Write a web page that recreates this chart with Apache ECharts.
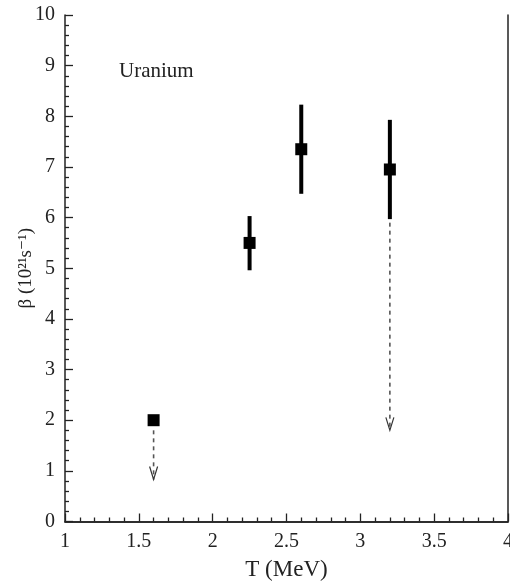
<!DOCTYPE html>
<html><head><meta charset="utf-8">
<script src="https://cdn.jsdelivr.net/npm/echarts@6/dist/echarts.min.js"></script>
<style>html,body{margin:0;padding:0;background:#fff}#c{width:510px;height:585px}</style>
</head><body><div id="c"></div>
<script>
// Measured points: T (MeV), beta (10^21 s^-1)
const T = [1.6, 2.25, 2.6, 3.2];
const beta = [2.0, 5.5, 7.35, 6.95];
// error bars (low, high); null = none
const errLow = [null, 4.96, 6.47, 5.97];
const errHigh = [null, 6.03, 8.23, 7.93];
// dashed down-arrows (upper-limit indications): [T, from, to]
const arrowT = [1.6, 3.2];
const arrowFrom = [1.8, 5.9];
const arrowTo = [0.83, 1.8];
const xTicks = [1, 1.5, 2, 2.5, 3, 3.5, 4];
const yTicks = [0,1,2,3,4,5,6,7,8,9,10];

const FONT = '"Liberation Serif","DejaVu Serif",serif';
const chart = echarts.init(document.getElementById('c'));

const errData = T.map((t,i)=> errLow[i]==null?null:[t, errLow[i], errHigh[i]]).filter(d=>d);
const arrData = arrowT.map((t,i)=>[t, arrowFrom[i], arrowTo[i]]);

const axisCommon = {
  axisLine:{show:true,lineStyle:{color:'#222',width:1.5}},
  splitLine:{show:false},
};

chart.setOption({
  animation:false,
  grid:{left:65,right:2,top:15,bottom:63.5,containLabel:false,outerBoundsMode:'none'},
  xAxis:[{
    type:'value',min:1,max:4,interval:0.5,
    ...axisCommon,
    axisTick:{show:true,inside:true,length:8,lineStyle:{color:'#222',width:1.3}},
    minorTick:{show:true,splitNumber:5,length:4,lineStyle:{color:'#222',width:1.3}},
    axisLabel:{color:'#222',fontFamily:FONT,fontSize:20,margin:10,
      formatter:v=>String(v)},
    name:'T (MeV)',nameLocation:'middle',nameGap:37,nameMoveOverlap:false,
    nameTextStyle:{color:'#222',fontFamily:FONT,fontSize:23}
  },{
    type:'value',min:1,max:4,position:'top',
    ...axisCommon,axisTick:{show:false},axisLabel:{show:false}
  }],
  yAxis:[{
    type:'value',min:0,max:10,interval:1,
    ...axisCommon,
    axisTick:{show:true,inside:true,length:8,lineStyle:{color:'#222',width:1.3}},
    minorTick:{show:true,splitNumber:5,length:4,lineStyle:{color:'#222',width:1.3}},
    axisLabel:{color:'#222',fontFamily:FONT,fontSize:20,margin:10},
    name:'β (10²¹s⁻¹)',nameLocation:'middle',nameGap:29,nameMoveOverlap:false,
    nameTextStyle:{color:'#222',fontFamily:FONT,fontSize:19}
  },{
    type:'value',min:0,max:10,position:'right',
    ...axisCommon,axisTick:{show:false},axisLabel:{show:false}
  }],
  graphic:[{type:'text',left:119,top:61,style:{text:'Uranium',font:'21px '+FONT,fill:'#222'}}],
  series:[
    {type:'custom',data:arrData,z:2,renderItem:(p,api)=>{
      const a=api.coord([api.value(0),api.value(1)]);
      const b=api.coord([api.value(0),api.value(2)]);
      return {type:'group',children:[
        {type:'line',shape:{x1:a[0],y1:a[1],x2:b[0],y2:b[1]},style:{stroke:'#555',lineWidth:1.6,lineDash:[4,4]}},
        {type:'polyline',shape:{points:[[b[0]-4,b[1]-13],[b[0],b[1]],[b[0]+4,b[1]-13]]},style:{stroke:'#333',lineWidth:1.2,fill:null}}
      ]};
    }},
    {type:'custom',data:errData,z:3,renderItem:(p,api)=>{
      const a=api.coord([api.value(0),api.value(1)]);
      const b=api.coord([api.value(0),api.value(2)]);
      return {type:'line',shape:{x1:a[0],y1:a[1],x2:b[0],y2:b[1]},style:{stroke:'#000',lineWidth:4}};
    }},
    {type:'scatter',data:T.map((t,i)=>[t,beta[i]]),symbol:'rect',symbolSize:12,z:4,
     itemStyle:{color:'#000',opacity:1}}
  ]
});
</script></body></html>
